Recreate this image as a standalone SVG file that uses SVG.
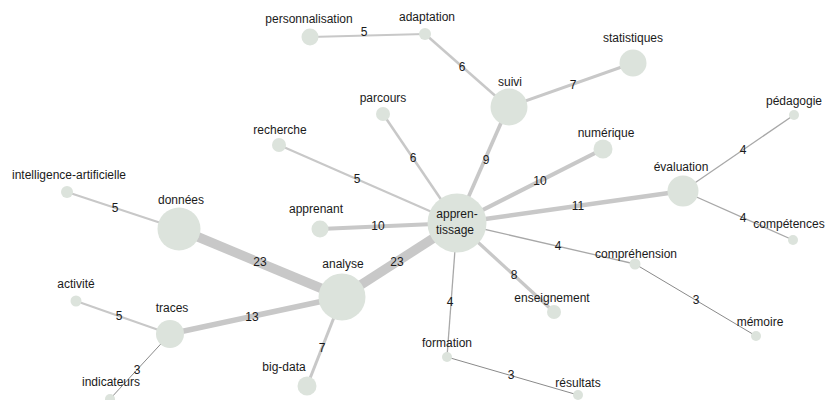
<svg xmlns="http://www.w3.org/2000/svg" width="828" height="400" viewBox="0 0 828 400">
<style>
text{font-family:"Liberation Sans",Arial,sans-serif;font-size:12px;fill:#1a1a1a;text-anchor:middle}
.n{fill:#dce3dc}
line{stroke:#c8c8c8;stroke-linecap:butt}
.w3{stroke:#8a8a8a;stroke-width:1}
.w4{stroke:#a8a8a8;stroke-width:1.3}
.w5{stroke-width:2}
.w6{stroke-width:2.5}
.w7{stroke-width:3}
.w8{stroke-width:3.3}
.w9{stroke-width:3.7}
.w10{stroke-width:4.2}
.w11{stroke-width:4.6}
.w13{stroke-width:5.5}
.w23{stroke-width:9.5}
</style>
<rect width="828" height="400" fill="#fff"/>
<g id="connectors">
<line class="w5" x1="310" y1="37" x2="425" y2="34"/>
<line class="w6" x1="425" y1="34" x2="508" y2="107"/>
<line class="w7" x1="508" y1="107" x2="633" y2="63"/>
<line class="w9" x1="508" y1="107" x2="457" y2="223"/>
<line class="w6" x1="383" y1="114" x2="457" y2="223"/>
<line class="w5" x1="279" y1="145" x2="457" y2="223"/>
<line class="w10" x1="603" y1="149" x2="457" y2="223"/>
<line class="w11" x1="683" y1="191" x2="457" y2="223"/>
<line class="w4" x1="683" y1="191" x2="794" y2="115"/>
<line class="w4" x1="683" y1="191" x2="793" y2="240"/>
<line class="w10" x1="320" y1="229" x2="457" y2="223"/>
<line class="w23" x1="342" y1="297" x2="457" y2="223"/>
<line class="w23" x1="179" y1="229" x2="342" y2="297"/>
<line class="w5" x1="67" y1="192" x2="179" y2="229"/>
<line class="w13" x1="342" y1="297" x2="170" y2="334"/>
<line class="w5" x1="76" y1="301" x2="170" y2="334"/>
<line class="w3" x1="170" y1="334" x2="110" y2="399"/>
<line class="w7" x1="342" y1="297" x2="307" y2="386"/>
<line class="w4" x1="457" y1="223" x2="635" y2="264"/>
<line class="w3" x1="635" y1="264" x2="756" y2="336"/>
<line class="w8" x1="457" y1="223" x2="554" y2="312"/>
<line class="w4" x1="457" y1="223" x2="447" y2="357"/>
<line class="w3" x1="447" y1="357" x2="578" y2="395"/>
</g>
<g id="edge-labels">
<text x="364" y="36">5</text>
<text x="462" y="71">6</text>
<text x="573" y="89">7</text>
<text x="486" y="164">9</text>
<text x="413" y="162">6</text>
<text x="357" y="183">5</text>
<text x="540" y="185">10</text>
<text x="578" y="210">11</text>
<text x="743" y="154">4</text>
<text x="743" y="222">4</text>
<text x="378" y="230">10</text>
<text x="397" y="266">23</text>
<text x="260" y="266">23</text>
<text x="115" y="212">5</text>
<text x="252" y="321">13</text>
<text x="119" y="320">5</text>
<text x="137" y="374">3</text>
<text x="322" y="352">7</text>
<text x="558" y="250">4</text>
<text x="696" y="304">3</text>
<text x="514" y="279">8</text>
<text x="450" y="306">4</text>
<text x="511" y="379">3</text>
</g>
<g id="personnalisation"><circle class="n" cx="310" cy="37" r="8.5"/><text x="309" y="23">personnalisation</text></g>
<g id="adaptation"><circle class="n" cx="425" cy="34" r="6"/><text x="427" y="21">adaptation</text></g>
<g id="suivi"><circle class="n" cx="509" cy="107" r="18.5"/><text x="510" y="86">suivi</text></g>
<g id="statistiques"><circle class="n" cx="633" cy="63" r="13.5"/><text x="633" y="42">statistiques</text></g>
<g id="numerique"><circle class="n" cx="603" cy="149" r="9.5"/><text x="606" y="137">numérique</text></g>
<g id="pedagogie"><circle class="n" cx="794" cy="115" r="5"/><text x="794" y="105">pédagogie</text></g>
<g id="evaluation"><circle class="n" cx="683" cy="191" r="15.5"/><text x="681" y="171">évaluation</text></g>
<g id="parcours"><circle class="n" cx="383" cy="114" r="7"/><text x="383" y="102">parcours</text></g>
<g id="recherche"><circle class="n" cx="279" cy="145" r="7"/><text x="280" y="134">recherche</text></g>
<g id="intelligence-artificielle"><circle class="n" cx="67" cy="192" r="6"/><text x="69" y="179">intelligence-artificielle</text></g>
<g id="donnees"><circle class="n" cx="179" cy="229" r="21.5"/><text x="181" y="204">données</text></g>
<g id="apprenant"><circle class="n" cx="320" cy="229" r="8.5"/><text x="316" y="213">apprenant</text></g>
<g id="analyse"><circle class="n" cx="342" cy="297" r="23.5"/><text x="343" y="268">analyse</text></g>
<g id="activite"><circle class="n" cx="76" cy="301" r="5.5"/><text x="76" y="288">activité</text></g>
<g id="traces"><circle class="n" cx="170" cy="334" r="14"/><text x="172" y="312">traces</text></g>
<g id="indicateurs"><circle class="n" cx="110" cy="399" r="5"/><text x="111" y="386">indicateurs</text></g>
<g id="big-data"><circle class="n" cx="307" cy="386" r="9.5"/><text x="284" y="371">big-data</text></g>
<g id="apprentissage"><circle class="n" cx="457" cy="223" r="29.5"/><text x="457" y="218">appren-</text><text x="455" y="234">tissage</text></g>
<g id="competences"><circle class="n" cx="793" cy="240" r="5"/><text x="789" y="228">compétences</text></g>
<g id="comprehension"><circle class="n" cx="635" cy="264" r="5.5"/><text x="636" y="258">compréhension</text></g>
<g id="enseignement"><circle class="n" cx="554" cy="312" r="7"/><text x="552" y="302">enseignement</text></g>
<g id="memoire"><circle class="n" cx="756" cy="336" r="5"/><text x="760" y="326">mémoire</text></g>
<g id="formation"><circle class="n" cx="447" cy="357" r="5"/><text x="447" y="347">formation</text></g>
<g id="resultats"><circle class="n" cx="578" cy="395" r="5"/><text x="578" y="387">résultats</text></g>
</svg>
